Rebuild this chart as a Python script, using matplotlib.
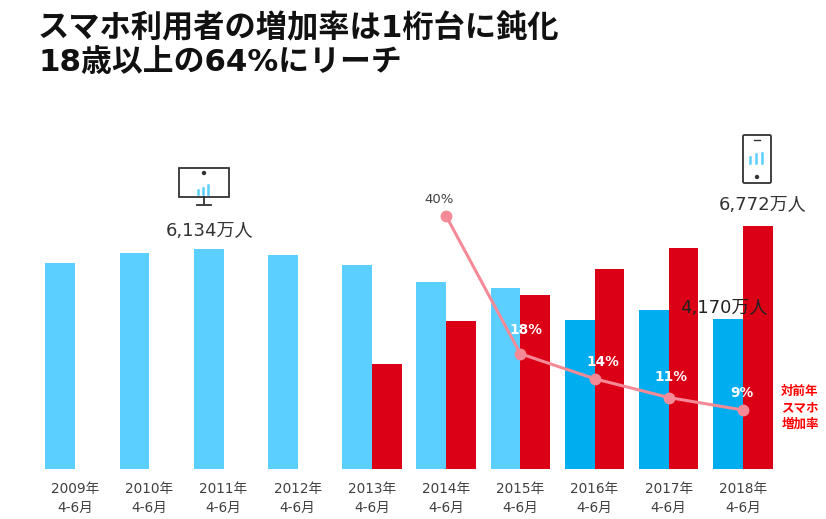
import matplotlib
matplotlib.use('Agg')
import matplotlib.pyplot as plt
from matplotlib.patches import Rectangle, FancyBboxPatch, Circle

# wide latin digits from DejaVu, kana and kanji from Noto
plt.rcParams['font.family'] = ['DejaVu Sans', 'Noto Sans CJK JP']

years = ['2009年', '2010年', '2011年', '2012年', '2013年', '2014年', '2015年', '2016年', '2017年', '2018年']
period = '4-6月'
total_users = [5740, 6020, 6134, 5965, 5685, 5210, 5045, 4150, 4430, 4170]
smartphone_users = [0, 0, 0, 0, 2925, 4125, 4850, 5575, 6160, 6772]
growth_idx = [5, 6, 7, 8, 9]
growth_pct = [40, 18, 14, 11, 9]

W, H = 826, 519
light_blue = '#5BCFFF'
dark_blue = '#00AEEF'
red = '#DB0015'
pink = '#F58A97'

fig = plt.figure(figsize=(W / 100, H / 100), dpi=100)

# pixels of the plot area: x 38-780, y 200-469
ax = fig.add_axes([38 / W, 1 - 469 / H, 742 / W, 269 / H])
xs = list(range(len(years)))
blue_colors = [light_blue] * 7 + [dark_blue] * 3
ax.bar([x - 0.2 for x in xs], total_users, width=0.4, color=blue_colors)
ax.bar([x + 0.2 for x in xs], smartphone_users, width=0.4, color=red)
ax.set_xlim(-0.5, 9.5)
ax.set_ylim(0, 7497)
ax.set_xticks(xs)
ax.set_xticklabels([y + '\n' + period for y in years], fontsize=9.8, color='#404040', linespacing=1.45)
ax.tick_params(axis='x', length=0, pad=9)
ax.set_yticks([])
for s in ax.spines.values():
    s.set_visible(False)

# growth rate line on its own scale
ax2 = ax.twinx()
ax2.set_ylim(-0.42, 42.55)
ax2.set_yticks([])
for s in ax2.spines.values():
    s.set_visible(False)
ax2.plot(growth_idx, growth_pct, color=pink, lw=2.2, marker='o', ms=7.5, zorder=3)

ax2.text(4.9, 42.7, '40%', fontsize=9.5, color='#404040', ha='center', va='center', clip_on=False)
label_pos = [(6.08, 21.8), (7.11, 16.7), (8.03, 14.3), (8.98, 11.7)]
for (lx, ly), v in zip(label_pos, growth_pct[1:]):
    ax2.text(lx, ly, str(v) + '%', fontsize=9.8, color='white', fontweight='bold', ha='center', va='center')

ax.text(1.81, 6134 + 250, '6,134万人', fontsize=13, color='#333333', ha='center', va='bottom')
ax.text(9.26, 6772 + 345, '6,772万人', fontsize=13, color='#333333', ha='center', va='bottom')
ax.text(8.74, 4170 + 55, '4,170万人', fontsize=13, color='#222222', ha='center', va='bottom')

# overlay in pixel coordinates for headline, note and icons
ov = fig.add_axes([0, 0, 1, 1], facecolor='none')
ov.set_xlim(0, W)
ov.set_ylim(H, 0)
ov.axis('off')

ov.text(38, 28, 'スマホ利用者の増加率は1桁台に鈍化', fontsize=22.5, fontweight='bold', color='#111111', va='center')
ov.text(38, 63, '18歳以上の64%にリーチ', fontsize=22.2, fontweight='bold', color='#111111', va='center')
ov.text(800, 408, '対前年\nスマホ\n増加率', fontsize=9, fontweight='bold', color='#FF0000', ha='center', va='center', linespacing=1.34)

# monitor icon
ink = '#333333'
ov.add_patch(Rectangle((179, 168), 50, 29, fill=False, ec=ink, lw=1.3))
ov.add_patch(Circle((204, 173), 1.5, color=ink))
ov.plot([204, 204], [197, 204], color=ink, lw=1.3)
ov.plot([197, 211], [205, 205], color=ink, lw=1.3)
for bx, by in [(198, 190), (203, 188), (208, 185)]:
    ov.plot([bx, bx], [194, by], color=light_blue, lw=1.8)

# phone icon
ov.add_patch(FancyBboxPatch((743, 135), 28, 48, boxstyle='round,pad=0,rounding_size=1.5', fill=False, ec=ink, lw=1.3))
ov.plot([754, 760], [140, 140], color=ink, lw=1)
ov.add_patch(Circle((757, 177), 1.5, color=ink))
for bx, by in [(750, 157), (756, 154), (762, 153)]:
    ov.plot([bx, bx], [163, by], color=light_blue, lw=1.8)

fig.savefig('out.png', dpi=100)
